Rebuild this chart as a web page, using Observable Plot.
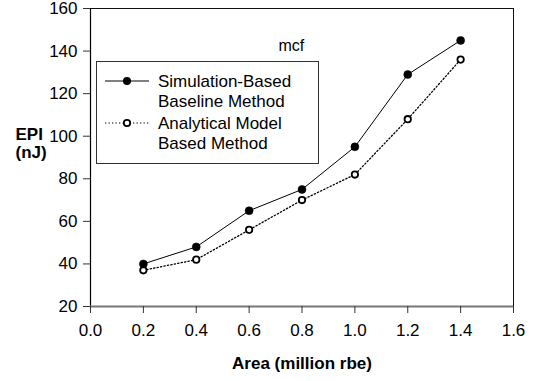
<!DOCTYPE html>
<html>
<head>
<meta charset="utf-8">
<script src="https://cdn.jsdelivr.net/npm/d3@7"></script>
<script src="https://cdn.jsdelivr.net/npm/@observablehq/plot@0.6"></script>
<style>
  html, body { margin: 0; padding: 0; background: #fff; }
  #wrap { position: relative; width: 534px; height: 381px; font-family: Arial, "Liberation Sans", sans-serif; }
  #legend { position: absolute; left: 96px; top: 61px; width: 221px; height: 101px; border: 1px solid #333; background: #fff; box-sizing: content-box; }
  #legend svg { position: absolute; left: 0; top: 0; }
  .lt { position: absolute; left: 61px; font-size: 17px; line-height: 20px; color: #000; white-space: nowrap; }
</style>
</head>
<body>
<div id="wrap"></div>
<script>
const areas = [0.2, 0.4, 0.6, 0.8, 1.0, 1.2, 1.4];
const simulationEPI = [40, 48, 65, 75, 95, 129, 145];
const analyticalEPI = [37, 42, 56, 70, 82, 108, 136];
const xTicks = [0, 0.2, 0.4, 0.6, 0.8, 1.0, 1.2, 1.4, 1.6];
const yTicks = [20, 40, 60, 80, 100, 120, 140, 160];
const seriesNames = ["Simulation-Based\nBaseline Method", "Analytical Model\nBased Method"];

const sim = areas.map((a, i) => ({x: a, y: simulationEPI[i]}));
const ana = areas.map((a, i) => ({x: a, y: analyticalEPI[i]}));

const chart = Plot.plot({
  width: 534,
  height: 381,
  marginLeft: 90,
  marginRight: 21,
  marginTop: 8,
  marginBottom: 75,
  style: {fontFamily: "Arial, 'Liberation Sans', sans-serif", fontSize: "17px", color: "#000", background: "#fff"},
  x: {domain: [0, 1.6], ticks: xTicks, tickFormat: d => d.toFixed(1), tickSize: 7, tickPadding: 10, label: null},
  y: {domain: [20, 160], ticks: yTicks, tickSize: 7, tickPadding: 6, label: null},
  marks: [
    Plot.frame({stroke: "#111", strokeWidth: 1}),
    Plot.ruleX([0], {stroke: "#000", strokeWidth: 1.2}),
    Plot.ruleY([20], {stroke: "#777", strokeWidth: 2}),
    Plot.axisX({ticks: xTicks, tickFormat: d => d.toFixed(1), tickSize: 7, tickPadding: 10, fontSize: 17, stroke: "#333"}),
    Plot.axisY({ticks: yTicks, tickSize: 7, tickPadding: 6, fontSize: 17, stroke: "#333"}),
    Plot.line(ana, {x: "x", y: "y", stroke: "#000", strokeWidth: 1.3, strokeDasharray: "1.3,2.2"}),
    Plot.line(sim, {x: "x", y: "y", stroke: "#000", strokeWidth: 1}),
    Plot.dot(ana, {x: "x", y: "y", r: 3.2, fill: "#fff", stroke: "#000", strokeWidth: 1.8}),
    Plot.dot(sim, {x: "x", y: "y", r: 4, fill: "#000", stroke: "#000", strokeWidth: 0.5}),
    Plot.text(["mcf"], {x: 0.76, y: 142.5, text: d => d, fontSize: 16, textAnchor: "middle"}),
    Plot.text(["EPI\n(nJ)"], {frameAnchor: "top-left", dx: -75, dy: 119, text: d => d, fontSize: 17, fontWeight: "bold", textAnchor: "start", lineAnchor: "top", lineHeight: 1.05}),
    Plot.text(["Area (million rbe)"], {frameAnchor: "bottom", dy: 62, text: d => d, fontSize: 17, fontWeight: "bold"})
  ]
});

const wrap = document.getElementById("wrap");
wrap.appendChild(chart);

// legend
const leg = document.createElement("div");
leg.id = "legend";
const lsvg = d3.create("svg").attr("width", 60).attr("height", 100);
lsvg.append("line").attr("x1", 8).attr("x2", 52).attr("y1", 19).attr("y2", 19).attr("stroke", "#000").attr("stroke-width", 1);
lsvg.append("circle").attr("cx", 30).attr("cy", 19).attr("r", 4).attr("fill", "#000");
lsvg.append("line").attr("x1", 8).attr("x2", 52).attr("y1", 61).attr("y2", 61).attr("stroke", "#000").attr("stroke-width", 1.2).attr("stroke-dasharray", "1.3,2.2");
lsvg.append("circle").attr("cx", 30).attr("cy", 61).attr("r", 3.2).attr("fill", "#fff").attr("stroke", "#000").attr("stroke-width", 1.8);
leg.appendChild(lsvg.node());
const tops = [10, 52];
seriesNames.forEach((name, i) => {
  const t = document.createElement("div");
  t.className = "lt";
  t.style.top = tops[i] + "px";
  t.innerHTML = name.split("\n").join("<br>");
  leg.appendChild(t);
});
wrap.appendChild(leg);
</script>
</body>
</html>
